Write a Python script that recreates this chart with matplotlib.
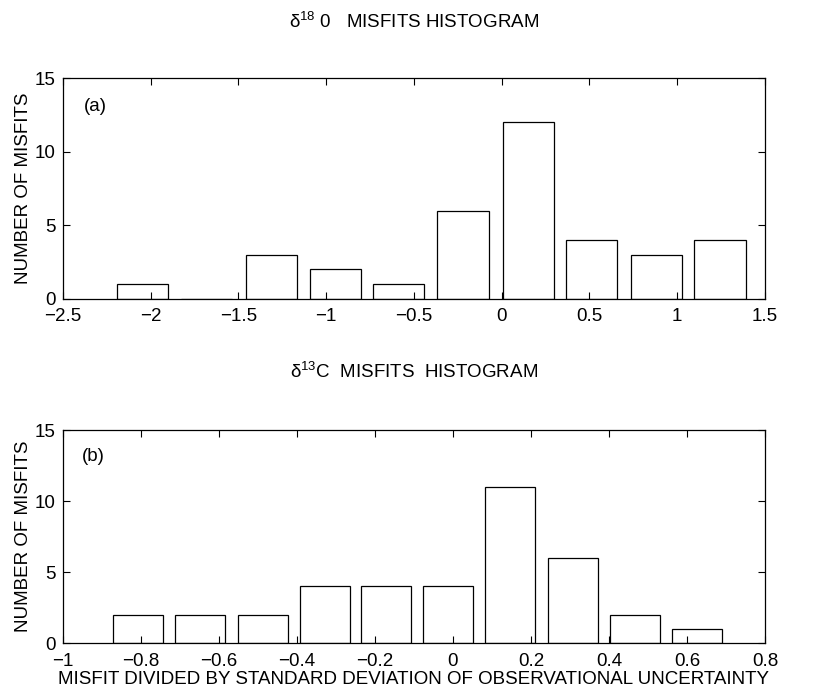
import numpy as np
import matplotlib
matplotlib.use('Agg')
import matplotlib.pyplot as plt

plt.rcParams['font.family'] = ['Liberation Sans', 'DejaVu Sans']
plt.rcParams['mathtext.fontset'] = 'custom'
plt.rcParams['mathtext.rm'] = 'Liberation Sans'

# --- data ---
# (a) delta 18 O misfits, 10 bins
o18_centers = [-2.047, -1.682, -1.313, -0.948, -0.587, -0.220, 0.151, 0.513, 0.881, 1.244]
o18_counts = [1, 0, 3, 2, 1, 6, 12, 4, 3, 4]
# (b) delta 13 C misfits, 10 bins
c13_centers = [-0.808, -0.648, -0.488, -0.329, -0.171, -0.013, 0.147, 0.307, 0.466, 0.626]
c13_counts = [2, 2, 2, 4, 4, 4, 11, 6, 2, 1]

o18_xticks = [-2.5, -2, -1.5, -1, -0.5, 0, 0.5, 1, 1.5]
c13_xticks = [-1, -0.8, -0.6, -0.4, -0.2, 0, 0.2, 0.4, 0.6, 0.8]
yticks = [0, 5, 10, 15]

fs = 13.5

fig = plt.figure(figsize=(8.27, 6.93), dpi=100)
ax1 = fig.add_axes([0.076, 0.569, 0.849, 0.318])
ax2 = fig.add_axes([0.076, 0.072, 0.849, 0.307])


def style(ax, xticks, xlim):
    ax.set_xlim(xlim)
    ax.set_ylim(0, 15)
    ax.set_xticks(xticks)
    ax.set_xticklabels([('%g' % t).replace('-', '\u2212') for t in xticks])
    ax.set_yticks(yticks)
    ax.tick_params(direction='in', top=True, right=True, length=5, width=0.8,
                   labelsize=fs)
    ax.tick_params(axis='x', pad=7)
    ax.tick_params(axis='y', pad=5)
    for s in ax.spines.values():
        s.set_linewidth(0.9)
    ax.set_ylabel('NUMBER OF MISFITS', fontsize=fs, labelpad=2)


def draw(ax, centers, counts):
    w = 0.8 * (centers[1] - centers[0])
    ax.bar(centers, counts, width=w, facecolor='white', edgecolor='black', linewidth=0.9)


draw(ax1, o18_centers, o18_counts)
style(ax1, o18_xticks, (-2.5, 1.5))
ax1.set_title('δ$^{\\mathregular{18}}$ 0   MISFITS HISTOGRAM', fontsize=fs, pad=36)
ax1.text(0.03, 0.85, '(a)', transform=ax1.transAxes, fontsize=fs)

draw(ax2, c13_centers, c13_counts)
style(ax2, c13_xticks, (-1, 0.8))
ax2.set_title('δ$^{\\mathregular{13}}$C  MISFITS  HISTOGRAM', fontsize=fs, pad=38)
ax2.text(0.027, 0.855, '(b)', transform=ax2.transAxes, fontsize=fs)
ax2.set_xlabel('MISFIT DIVIDED BY STANDARD DEVIATION OF OBSERVATIONAL UNCERTAINTY',
               fontsize=fs, labelpad=1)

fig.savefig('out.png', dpi=100)
